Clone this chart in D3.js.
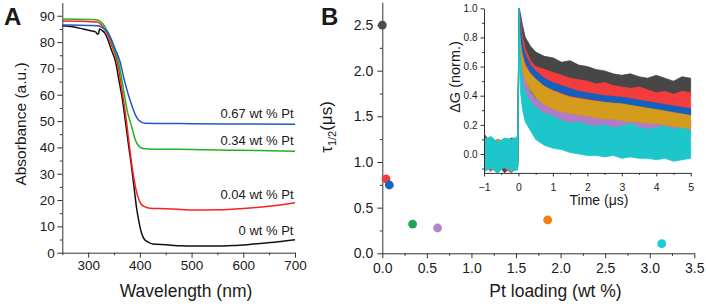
<!DOCTYPE html>
<html><head><meta charset="utf-8">
<script src="https://cdn.jsdelivr.net/npm/d3@7"></script>
<style>
body{margin:0;background:#fff}
svg{display:block}
text{font-family:"Liberation Sans",Arial,sans-serif;fill:#1a1a1a}
</style>
</head><body><script>
// ---------- Panel A data ----------
const wl0 = [250,270,290,305,315,318,320,322,326,332,338,345,353,360,366,372,378,384,388,391,394,397,400,404,408,416,425,450,480,500,540,580,620,660,700];
const abs0 = [86.2,85.8,85.0,84.3,83.8,83.0,83.2,85.0,84.5,83.5,81.0,77.0,72.5,65.0,58.5,50.0,41.0,32.5,26.0,21.0,16.5,13.0,10.0,7.0,5.3,4.0,3.3,3.0,2.6,2.5,2.5,2.7,3.3,4.0,4.9];
const wl1 = [250,280,300,318,325,332,340,348,355,360,366,372,378,384,390,396,402,408,413,420,450,480,500,550,600,650,700];
const abs1 = [88.0,87.9,87.8,87.6,86.6,85.0,81.8,77.5,73.5,68.5,61.0,53.0,43.5,34.0,26.5,21.3,18.6,17.6,17.2,16.9,16.7,16.4,16.2,16.3,16.8,17.6,19.0];
const wl2 = [250,300,318,325,332,340,350,358,364,370,376,381,386,391,396,401,406,415,450,500,550,600,650,700];
const abs2 = [88.8,88.6,88.4,87.6,86.0,83.0,77.5,73.0,67.0,60.0,53.5,50.0,46.5,43.0,41.0,40.0,39.6,39.4,39.3,39.2,39.0,38.9,38.7,38.5];
const wl3 = [250,300,318,325,332,339,345,352,361,370,377,381,387,393,398,403,410,450,500,600,700];
const abs3 = [86.5,86.3,86.2,85.8,84.8,83.3,81.0,77.5,73.0,65.5,60.5,58.0,54.5,51.7,50.3,49.6,49.2,49.1,49.0,48.9,48.8];
const curveLabelsA = ["0 wt % Pt","0.04 wt % Pt","0.34 wt % Pt","0.67 wt % Pt"];
const xTicksA = [300,400,500,600,700];
const yTicksA = [0,10,20,30,40,50,60,70,80,90];

// ---------- Panel B data ----------
const ptLoading = [0, 0.042, 0.079, 0.34, 0.62, 1.855, 3.135];
const tauHalf = [2.5, 0.815, 0.748, 0.32, 0.277, 0.365, 0.105];
const xTicksB = [0,0.5,1,1.5,2,2.5,3,3.5];
const yTicksB = [0,0.5,1,1.5,2,2.5];

// ---------- Inset data (noise envelopes, lower/upper) ----------
const tInset = [-1,-0.8,-0.6,-0.4,-0.2,-0.02,0.02,0.06,0.12,0.2,0.35,0.5,0.75,1,1.25,1.5,1.75,2,2.25,2.5,2.75,3,3.25,3.5,3.75,4,4.25,4.5,4.75,5];
const grayLo = [-0.05,-0.11,-0.07,-0.13,-0.08,-0.09,0.93,0.84,0.74,0.68,0.62,0.58,0.54,0.52,0.50,0.49,0.48,0.47,0.45,0.44,0.43,0.42,0.42,0.41,0.40,0.40,0.39,0.39,0.40,0.40];
const grayHi = [0.14,0.07,0.10,0.08,0.11,0.10,1.0,0.96,0.88,0.80,0.74,0.70,0.67,0.66,0.63,0.64,0.61,0.60,0.58,0.57,0.55,0.54,0.55,0.53,0.52,0.54,0.52,0.50,0.53,0.52];
const redLo = [-0.08,-0.12,-0.06,-0.10,-0.13,-0.07,0.90,0.78,0.66,0.58,0.50,0.46,0.41,0.39,0.37,0.35,0.34,0.32,0.32,0.31,0.31,0.30,0.30,0.29,0.28,0.28,0.27,0.27,0.26,0.26];
const redHi = [0.12,0.07,0.10,0.08,0.10,0.09,1.0,0.92,0.80,0.72,0.64,0.60,0.58,0.56,0.54,0.52,0.51,0.50,0.48,0.49,0.47,0.46,0.45,0.46,0.44,0.42,0.43,0.41,0.43,0.42];
const greenLo = [-0.07,-0.09,-0.11,-0.06,-0.10,-0.08,0.90,0.64,0.52,0.45,0.37,0.33,0.30,0.28,0.26,0.25,0.24,0.23,0.22,0.22,0.21,0.21,0.20,0.20,0.19,0.19,0.18,0.18,0.17,0.17];
const greenHi = [0.08,0.10,0.07,0.09,0.08,0.10,1.0,0.76,0.62,0.54,0.46,0.41,0.38,0.36,0.34,0.32,0.31,0.30,0.29,0.28,0.28,0.27,0.27,0.26,0.26,0.25,0.25,0.24,0.24,0.23];
const purpleLo = [-0.09,-0.07,-0.10,-0.08,-0.11,-0.07,0.88,0.56,0.44,0.39,0.30,0.27,0.24,0.22,0.21,0.20,0.19,0.19,0.18,0.18,0.17,0.17,0.17,0.16,0.16,0.16,0.15,0.15,0.14,0.14];
const purpleHi = [0.07,0.09,0.08,0.10,0.07,0.09,1.0,0.68,0.56,0.52,0.42,0.38,0.35,0.33,0.31,0.29,0.28,0.28,0.27,0.26,0.25,0.24,0.24,0.23,0.23,0.22,0.22,0.21,0.21,0.21];
const goldLo = [-0.08,-0.10,-0.07,-0.09,-0.12,-0.06,0.92,0.71,0.58,0.51,0.44,0.39,0.34,0.31,0.29,0.28,0.27,0.26,0.25,0.24,0.24,0.23,0.22,0.22,0.21,0.21,0.20,0.19,0.18,0.17];
const goldHi = [0.09,0.07,0.10,0.08,0.09,0.10,1.0,0.82,0.68,0.60,0.55,0.52,0.47,0.44,0.41,0.39,0.38,0.37,0.36,0.36,0.35,0.35,0.34,0.34,0.33,0.33,0.32,0.31,0.29,0.27];
const blueLo = [-0.06,-0.08,-0.05,-0.07,-0.06,-0.05,0.95,0.82,0.70,0.63,0.56,0.52,0.47,0.44,0.42,0.40,0.39,0.38,0.37,0.36,0.355,0.35,0.34,0.33,0.32,0.31,0.30,0.29,0.28,0.27];
const blueHi = [0.06,0.07,0.08,0.05,0.07,0.06,1.0,0.87,0.75,0.68,0.61,0.57,0.52,0.49,0.47,0.45,0.43,0.42,0.41,0.40,0.395,0.39,0.38,0.37,0.36,0.35,0.34,0.33,0.32,0.31];
const cyanLo = [-0.12,-0.10,-0.13,-0.09,-0.12,-0.11,0.70,0.42,0.30,0.22,0.16,0.10,0.06,0.04,0.03,0.01,0.0,-0.01,-0.01,-0.02,-0.01,-0.03,-0.02,-0.03,-0.03,-0.04,-0.03,-0.05,-0.04,-0.03];
const cyanHi = [0.10,0.12,0.08,0.11,0.10,0.12,1.0,0.64,0.48,0.42,0.36,0.32,0.28,0.26,0.23,0.21,0.22,0.20,0.19,0.20,0.18,0.19,0.21,0.18,0.17,0.18,0.19,0.17,0.18,0.16];
const xTicksI = [-1,0,1,2,3,4,5];
const yTicksI = [0,0.2,0.4,0.6,0.8,1.0];

// ---------- drawing ----------
const svg = d3.select("body").append("svg").attr("width",706).attr("height",306);
const FONT = '"Liberation Sans",Arial,sans-serif';
const AX = "#333";

function drawAxis(gen, minorGen, transform, fs, pad){
  const g = svg.append("g").attr("transform", transform);
  g.call(gen.tickPadding(pad));
  g.select(".domain").attr("stroke",AX).attr("stroke-width",1);
  g.selectAll(".tick line").attr("stroke",AX).attr("stroke-width",1);
  g.selectAll(".tick text").attr("font-family",FONT).attr("font-size",fs).attr("fill","#1a1a1a");
  if(minorGen){
    const m = svg.append("g").attr("transform", transform);
    m.call(minorGen.tickFormat(""));
    m.select(".domain").remove();
    m.selectAll(".tick line").attr("stroke",AX).attr("stroke-width",1);
  }
  return g;
}

// Panel A
const xA = d3.scaleLinear([250,700],[62.3,295]);
const yA = d3.scaleLinear([0,95],[252.7,2.6]);
drawAxis(d3.axisBottom(xA).tickValues(xTicksA).tickSize(5).tickSizeOuter(0).tickFormat(d3.format("d")),
  d3.axisBottom(xA).tickValues([250,350,450,550,650]).tickSize(2.5),
  `translate(0,${yA(0)})`, 13.5, 2.7);
drawAxis(d3.axisLeft(yA).tickValues(yTicksA).tickSize(5).tickSizeOuter(0).tickFormat(d3.format("d")),
  d3.axisLeft(yA).tickValues([5,15,25,35,45,55,65,75,85]).tickSize(2.5),
  `translate(${xA(250)},0)`, 13.5, 2.5);

const seriesA = [
  {wl:wl0, a:abs0, color:"#111111"},
  {wl:wl1, a:abs1, color:"#ff1e1e"},
  {wl:wl2, a:abs2, color:"#1fb41f"},
  {wl:wl3, a:abs3, color:"#2456c6"}
];
const lineA = d3.line().x(d=>xA(d[0])).y(d=>yA(d[1])).curve(d3.curveMonotoneX);
seriesA.forEach(s=>{
  svg.append("path").datum(d3.zip(s.wl,s.a)).attr("d",lineA)
    .attr("fill","none").attr("stroke",s.color).attr("stroke-width",1.5);
});
const labelOffsets = [4.5, 4, 6.5, 6];
seriesA.forEach((s,i)=>{
  svg.append("text").attr("x",xA(700)-1.5).attr("y",yA(s.a[s.a.length-1])-labelOffsets[i])
    .attr("text-anchor","end").attr("font-family","'Open Sans',sans-serif").attr("font-size",13)
    .text(curveLabelsA[i]);
});
svg.append("text").attr("x",186).attr("y",296.5).attr("text-anchor","middle").attr("font-size",17.5).text("Wavelength (nm)");
svg.append("text").attr("transform","translate(26,124) rotate(-90)").attr("text-anchor","middle").attr("font-size",15.5).text("Absorbance (a.u.)");
svg.append("text").attr("x",4).attr("y",25).attr("font-size",24).attr("font-weight","bold").attr("fill","#000").text("A");

// Panel B
const xB = d3.scaleLinear([0,3.5],[382.3,694.3]);
const yB = d3.scaleLinear([0,2.75],[253.3,2.2]);
drawAxis(d3.axisBottom(xB).tickValues(xTicksB).tickSize(5).tickSizeOuter(0).tickFormat(d3.format(".1f")),
  d3.axisBottom(xB).tickValues([0.25,0.75,1.25,1.75,2.25,2.75,3.25]).tickSize(2.5),
  `translate(0,${yB(0)})`, 14, 4.5);
drawAxis(d3.axisLeft(yB).tickValues(yTicksB).tickSize(5).tickSizeOuter(0).tickFormat(d3.format(".1f")),
  d3.axisLeft(yB).tickValues([0.25,0.75,1.25,1.75,2.25]).tickSize(2.5),
  `translate(${xB(0)},0)`, 14, 4);
const dotColors = ["#4d4d4d","#f23b3b","#1565c0","#1fa653","#b584cc","#f57f12","#1ccdd6"];
svg.append("g").selectAll("circle").data(d3.zip(ptLoading,tauHalf)).join("circle")
  .attr("cx",d=>xB(d[0])).attr("cy",d=>yB(d[1])).attr("r",4.4)
  .attr("fill",(d,i)=>dotColors[i]);
svg.append("text").attr("x",555.5).attr("y",296.5).attr("text-anchor","middle").attr("font-size",17.5).text("Pt loading (wt %)");
const tl = svg.append("text").attr("transform","translate(332,127) rotate(-90)").attr("text-anchor","middle").attr("font-size",17);
tl.append("tspan").text("τ");
tl.append("tspan").attr("font-size",11).attr("dy",4).text("1/2");
tl.append("tspan").attr("dy",-4).text("(μs)");
svg.append("text").attr("x",321).attr("y",25).attr("font-size",24).attr("font-weight","bold").attr("fill","#000").text("B");

// Inset
const xI = d3.scaleLinear([-1,5],[484,690.7]);
const yI = d3.scaleLinear([-0.13,1.0],[172.9,8.3]);
svg.append("defs").append("clipPath").attr("id","ic").append("rect")
  .attr("x",xI(-1)).attr("y",yI(1.0)-1).attr("width",xI(5)-xI(-1)+1).attr("height",yI(-0.13)-yI(1.0)+1);
const inset = [
  {lo:grayLo, hi:grayHi, color:"#474747"},
  {lo:redLo, hi:redHi, color:"#f43c3c"},
  {lo:greenLo, hi:greenHi, color:"#1d9f4c"},
  {lo:purpleLo, hi:purpleHi, color:"#b07cc6"},
  {lo:goldLo, hi:goldHi, color:"#d49b1c"},
  {lo:blueLo, hi:blueHi, color:"#1560bd"},
  {lo:cyanLo, hi:cyanHi, color:"#1cc6ca"}
];
const areaI = d3.area().x(d=>xI(d[0])).y0(d=>yI(d[1])).y1(d=>yI(d[2]));
const ig = svg.append("g").attr("clip-path","url(#ic)");
inset.forEach(s=>{
  ig.append("path").datum(d3.zip(tInset,s.lo,s.hi)).attr("d",areaI)
    .attr("fill",s.color).attr("stroke",s.color).attr("stroke-width",0.8).attr("stroke-linejoin","bevel");
});
drawAxis(d3.axisBottom(xI).tickValues(xTicksI).tickSize(3.5).tickSizeOuter(0).tickFormat(d3.format("d")),
  d3.axisBottom(xI).tickValues([-0.5,0.5,1.5,2.5,3.5,4.5]).tickSize(2),
  `translate(0,${yI(-0.13)})`, 10.5, 7.5);
drawAxis(d3.axisLeft(yI).tickValues(yTicksI).tickSize(3.5).tickSizeOuter(0).tickFormat(d3.format(".1f")),
  d3.axisLeft(yI).tickValues([-0.1,0.1,0.3,0.5,0.7,0.9]).tickSize(2),
  `translate(${xI(-1)},0)`, 10, 3);
svg.append("text").attr("x",599).attr("y",205).attr("text-anchor","middle").attr("font-size",14).text("Time (μs)");
svg.append("text").attr("transform","translate(460,77) rotate(-90)").attr("text-anchor","middle").attr("font-size",14.5).text("ΔG (norm.)");
</script></body></html>
